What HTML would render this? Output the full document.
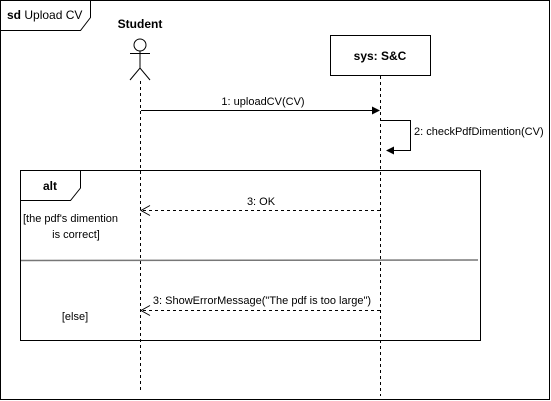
<!DOCTYPE html>
<html><head><meta charset="utf-8"><style>
html,body{margin:0;padding:0;background:#fff}
svg{display:block}
text{font-family:"Liberation Sans",Arial,sans-serif;font-size:11px;fill:#000}
</style></head><body>
<svg width="551" height="401" viewBox="0 0 551 401" xmlns="http://www.w3.org/2000/svg">
<rect x="0.5" y="0.5" width="549" height="399" fill="#fff" stroke="#000"/>
<path d="M0.5 30.5 H80.5 L90.5 17.5 V0.5" fill="none" stroke="#000"/>
<text x="7" y="19" font-size="12" style="font-size:12px"><tspan font-weight="bold">sd</tspan> Upload CV</text>

<text x="140" y="28" text-anchor="middle" style="font-size:12px;font-weight:bold">Student</text>
<circle cx="140" cy="45" r="6" fill="#fff" stroke="#000"/>
<line x1="130" y1="53.5" x2="150" y2="53.5" stroke="#000"/>
<line x1="140" y1="51" x2="140" y2="68" stroke="#000"/>
<path d="M130 80 L140 68 L150 80" fill="none" stroke="#000"/>
<line x1="140.5" y1="81" x2="140.5" y2="390" stroke="#000" stroke-dasharray="3,3"/>

<rect x="330.5" y="35.5" width="100" height="40" fill="#fff" stroke="#000"/>
<text x="380" y="60" text-anchor="middle" style="font-size:12px;font-weight:bold">sys: S&amp;C</text>
<line x1="380.5" y1="76" x2="380.5" y2="396" stroke="#000" stroke-dasharray="3,3"/>

<line x1="141" y1="110.5" x2="372" y2="110.5" stroke="#000"/>
<path d="M380 110.5 L372 106.5 L372 114.5 Z" fill="#000"/>
<text x="263" y="105" text-anchor="middle">1: uploadCV(CV)</text>

<path d="M381 120.5 H410.5 V150.5 H390" fill="none" stroke="#000"/>
<path d="M386 150.5 L394 146.5 L394 154.5 Z" fill="#000"/>
<text x="414" y="135">2: checkPdfDimention(CV)</text>

<rect x="20.5" y="170.5" width="460" height="170" fill="none" stroke="#000"/>
<path d="M20.5 200.5 H70.5 L80.5 188 V170.5" fill="none" stroke="#000"/>
<text x="50" y="190" text-anchor="middle" style="font-size:12px;font-weight:bold">alt</text>
<text x="23" y="222">[the pdf's dimention</text>
<text x="76" y="238" text-anchor="middle">is correct]</text>
<line x1="21" y1="260.5" x2="478" y2="260" stroke="#777" stroke-width="1.5"/>
<text x="75" y="320" text-anchor="middle">[else]</text>

<line x1="380" y1="210.5" x2="142" y2="210.5" stroke="#000" stroke-dasharray="3,3"/>
<path d="M150 205.5 L141 210.5 L150 215.5" fill="none" stroke="#000"/>
<text x="261" y="205" text-anchor="middle">3: OK</text>

<line x1="380" y1="310.5" x2="142" y2="310.5" stroke="#000" stroke-dasharray="3,3"/>
<path d="M150 305.5 L141 310.5 L150 315.5" fill="none" stroke="#000"/>
<text x="262" y="304" text-anchor="middle">3: ShowErrorMessage("The pdf is too large")</text>
</svg>
</body></html>
